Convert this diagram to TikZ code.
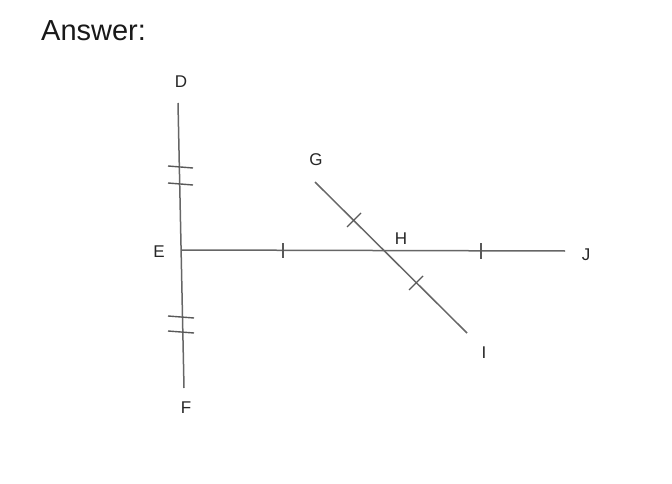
\documentclass[tikz,border=0pt]{standalone}
\usepackage{fontspec}
\setmainfont{Liberation Sans}
\begin{document}
\begin{tikzpicture}[x=1pt,y=-1pt,
  seg/.style={draw=black!60,line width=1.5pt},
  tk/.style={draw=black!65,line width=1.4pt},
  lbl/.style={font=\fontsize{17}{17}\selectfont,text=black!85,inner sep=0pt}]
\useasboundingbox (0,0) rectangle (672,484);
\node[anchor=base west,inner sep=0pt,font=\fontsize{29}{29}\selectfont,text=black!90] (ans) at (41,41) {Answer:};
% points
\coordinate (D) at (178,103);
\coordinate (F) at (184,388);
\coordinate (E) at (181,250);
\coordinate (J) at (565,251);
\coordinate (G) at (315,182);
\coordinate (I) at (467,333);
\coordinate (H) at (385,250);
\draw[seg] (D) -- (F);
\draw[seg] (E) -- (J);
\draw[seg] (G) -- (I);
% ticks on DF
\draw[tk] (168,166) -- (193,168);
\draw[tk] (168,183) -- (193,185);
\draw[tk] (168,316) -- (194,318);
\draw[tk] (168,331) -- (194,333);
% ticks on EJ
\draw[tk] (283,243) -- (283,258);
\draw[tk] (481,243) -- (481,259);
% ticks on GI
\draw[tk] (347,227) -- (361,213);
\draw[tk] (409,290) -- (423,276);
% labels
\node[lbl] (lD) at (181,82) {D};
\node[lbl] (lE) at (159,252) {E};
\node[lbl] (lF) at (186,408) {F};
\node[lbl] (lG) at (316,160) {G};
\node[lbl] (lH) at (401,239) {H};
\node[lbl] (lI) at (484,353) {I};
\node[lbl] (lJ) at (586,255) {J};
\end{tikzpicture}
\end{document}
